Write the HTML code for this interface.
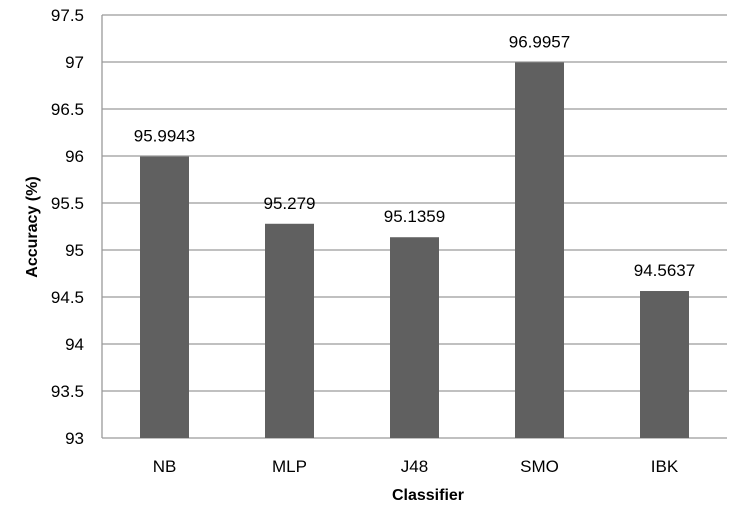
<!DOCTYPE html>
<html><head><meta charset="utf-8"><style>
body{margin:0;background:#fff;}
svg text{font-family:"Liberation Sans",sans-serif;fill:#000;}
</style></head><body>
<svg width="741" height="519" viewBox="0 0 741 519">
<g id="grid"></g><g id="bars"></g><g id="labels"></g>
<text x="428" y="500" text-anchor="middle" font-size="16" font-weight="bold">Classifier</text>
<text transform="translate(37,227) rotate(-90)" text-anchor="middle" font-size="16" font-weight="bold">Accuracy (%)</text>
</svg>
<script>
const categories=["NB","MLP","J48","SMO","IBK"];
const values=[95.9943,95.279,95.1359,96.9957,94.5637];
const valueLabels=["95.9943","95.279","95.1359","96.9957","94.5637"];
const yTicks=[93,93.5,94,94.5,95,95.5,96,96.5,97,97.5];
const NS="http://www.w3.org/2000/svg";
const L=102,R=727,T=15,B=438,yMin=93,yMax=97.5;
const y=v=>B-(v-yMin)/(yMax-yMin)*(B-T);
const band=(R-L)/categories.length;
const x=i=>L+band*(i+0.5);
function mk(t,a,p){const e=document.createElementNS(NS,t);for(const k in a)e.setAttribute(k,a[k]);p.appendChild(e);return e;}
const g=document.getElementById('grid'),b=document.getElementById('bars'),lb=document.getElementById('labels');
yTicks.forEach(t=>{
 const ln=mk('line',{x1:L,x2:R,y1:y(t),y2:y(t),stroke:'#9a9a9a','stroke-width':1.3},g);
 
 
 const tx=mk('text',{x:84,y:y(t)+6,'text-anchor':'end','font-size':17},g);tx.textContent=t;
 
 
});
const ax=mk('line',{x1:L,x2:L,y1:T,y2:B,stroke:'#9a9a9a','stroke-width':1.3},g);


categories.forEach((c,i)=>{
 const w=49;
 const r=mk('rect',{x:x(i)-w/2,y:y(values[i]),width:w,height:B-y(values[i]),fill:'#606060'},b);
 
 
 const v=mk('text',{x:x(i),y:y(values[i])-15,'text-anchor':'middle','font-size':17},lb);v.textContent=valueLabels[i];
 
 
 const xl=mk('text',{x:x(i),y:472,'text-anchor':'middle','font-size':17},lb);xl.textContent=c;
 
 
});
</script>
</body></html>
